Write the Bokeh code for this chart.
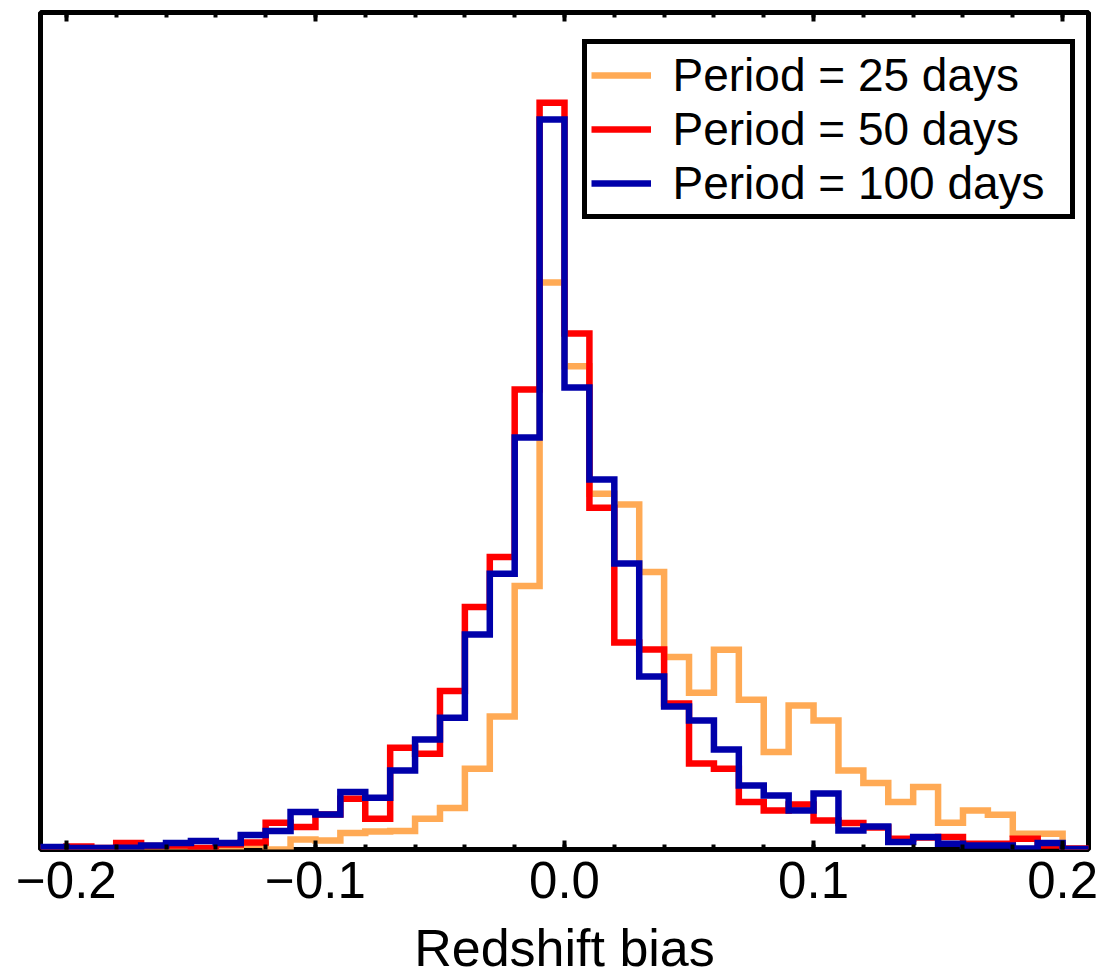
from bokeh.plotting import figure
from bokeh.models import Range1d, LinearAxis, FixedTicker, Legend, LegendItem
from bokeh.embed import file_html
from bokeh.resources import INLINE

# Histogram bin edges (redshift bias), bin width 0.01
bin_edges = [-0.21, -0.20, -0.19, -0.18, -0.17, -0.16, -0.15, -0.14, -0.13, -0.12,
             -0.11, -0.10, -0.09, -0.08, -0.07, -0.06, -0.05, -0.04, -0.03, -0.02,
             -0.01, 0.00, 0.01, 0.02, 0.03, 0.04, 0.05, 0.06, 0.07, 0.08,
             0.09, 0.10, 0.11, 0.12, 0.13, 0.14, 0.15, 0.16, 0.17, 0.18,
             0.19, 0.20, 0.21]

# Counts per bin (arbitrary units)
counts_25 = [0, 0, 0, 0, 0, 0, 0, 0, 4.7, 0,
             10, 9, 16.4, 18, 18.4, 30.7, 41.4, 80.7, 133, 263.4,
             567, 483.3, 355.7, 345, 277.4, 192.4, 156.7, 199.7, 149.7, 97.4,
             144, 129, 79, 66.4, 47.4, 62.4, 26.7, 39, 34.7, 15.7,
             15.7, 0]
counts_50 = [1.5, 3, 1.5, 6.4, 3.5, 4, 1.4, 5, 7, 26.7,
             22.4, 35, 50.7, 30.7, 101.7, 95.7, 158.4, 242.4, 292.4, 460,
             746.7, 516, 341.7, 207, 200, 146, 86, 80.7, 47.4, 39,
             45, 29, 26.4, 22, 10.7, 12, 12.4, 5.7, 5.7, 10.7,
             4, 1]
counts_100 = [2.4, 1.5, 1.5, 1.7, 4, 6.4, 8.4, 6.4, 14.4, 18.4,
              37.4, 35, 57.4, 51.7, 79, 110, 131.7, 215, 275.7, 412,
              730, 462, 370, 286, 173, 143, 129, 100, 64, 54,
              39, 56, 19, 23, 7.4, 12.4, 5.7, 4, 4, 1,
              6.4, 0.5]

labels = ["Period = 25 days", "Period = 50 days", "Period = 100 days"]
colors = ["#FFAA55", "#FF0000", "#0000AA"]

major_ticks = [-0.2, -0.1, 0.0, 0.1, 0.2]
minor_ticks = [-0.2, -0.18, -0.16, -0.14, -0.12, -0.1, -0.08, -0.06, -0.04, -0.02, 0.0,
               0.02, 0.04, 0.06, 0.08, 0.1, 0.12, 0.14, 0.16, 0.18, 0.2]
tick_labels = {-0.2: "\u22120.2", -0.1: "\u22120.1", 0.0: "0.0", 0.1: "0.1", 0.2: "0.2"}

FONT = "Liberation Sans"

p = figure(width=1107, height=979, frame_width=1048, frame_height=837,
           x_range=Range1d(-0.2104, 0.2104), y_range=Range1d(0, 837),
           output_backend="svg", toolbar_location=None,
           y_axis_location=None, x_axis_location="below",
           min_border_left=40, min_border_right=19, min_border_top=12, min_border_bottom=0)
p.grid.visible = False
p.background_fill_color = "white"
p.border_fill_color = "white"
p.outline_line_color = "black"
p.outline_line_width = 5
p.outline_line_alpha = 1.0

ticker = FixedTicker(ticks=major_ticks, minor_ticks=minor_ticks)

xa = p.xaxis[0]
xa.ticker = ticker
xa.major_label_overrides = tick_labels
xa.axis_line_color = None
xa.major_tick_in = 9
xa.major_tick_out = 0
xa.minor_tick_in = 5
xa.minor_tick_out = 0
xa.major_tick_line_width = 4
xa.minor_tick_line_width = 4
xa.major_tick_line_color = "black"
xa.minor_tick_line_color = "black"
xa.major_label_text_font = FONT
xa.major_label_text_font_size = "51px"
xa.major_label_text_color = "black"
xa.major_label_standoff = 12
xa.axis_label = "Redshift bias"
xa.axis_label_text_font = FONT
xa.axis_label_text_font_size = "52px"
xa.axis_label_text_font_style = "normal"
xa.axis_label_text_color = "black"
xa.axis_label_standoff = 18

top = LinearAxis(ticker=ticker)
top.axis_line_color = None
top.major_tick_in = 9
top.major_tick_out = 0
top.minor_tick_in = 5
top.minor_tick_out = 0
top.major_tick_line_width = 4
top.minor_tick_line_width = 4
top.major_label_text_font_size = "0px"
top.major_label_standoff = 0
p.add_layout(top, "above")


def step_points(edges, counts):
    xs = [edges[0]] + list(edges)
    ys = [0] + list(counts) + [0]
    return xs, ys


renderers = []
for counts, color in zip([counts_25, counts_50, counts_100], colors):
    xs, ys = step_points(bin_edges, counts)
    r = p.step(xs, ys, mode="after", line_color=color, line_width=6.5, line_join="miter")
    renderers.append(r)

legend = Legend(items=[LegendItem(label=l, renderers=[r]) for l, r in zip(labels, renderers)],
                location=(541.5, 630.5), margin=0, padding=4, spacing=0,
                glyph_width=60, glyph_height=40, label_standoff=22, label_width=393,
                label_text_font=FONT, label_text_font_size="46px", label_text_color="black",
                border_line_color="black", border_line_width=5.5, border_line_alpha=1.0,
                background_fill_color="white", background_fill_alpha=1.0)
p.add_layout(legend)

open("out.html", "w").write(file_html(p, INLINE))
